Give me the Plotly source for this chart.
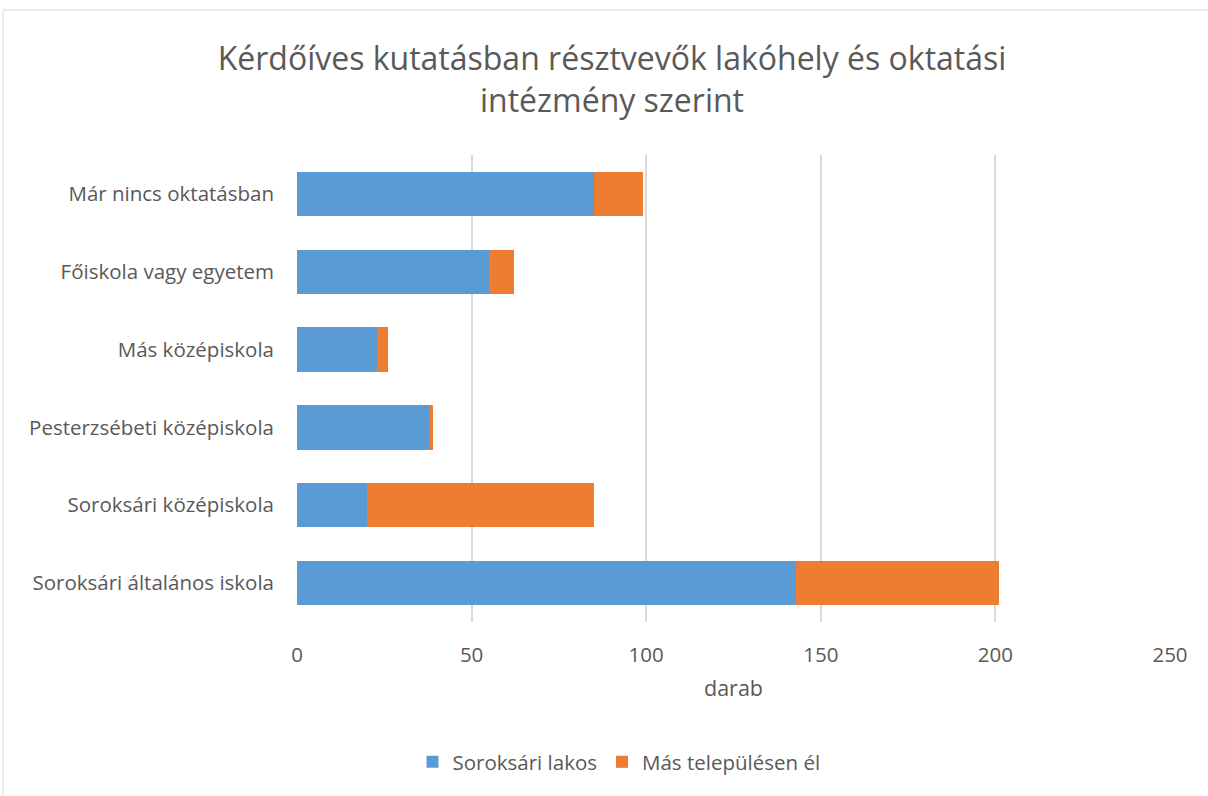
import plotly.graph_objects as go

# Respondents by place of residence and educational institution
categories = [
    "Soroksári általános iskola",
    "Soroksári középiskola",
    "Pesterzsébeti középiskola",
    "Más középiskola",
    "Főiskola vagy egyetem",
    "Már nincs oktatásban",
]
soroksari_lakos = [143, 20, 38, 23, 55, 85]
mas_telepulesen = [58, 65, 1, 3, 7, 14]

x_ticks = [0, 50, 100, 150, 200, 250]

W, H = 1208, 796
L, R, T, B = 297, 38, 155, 174
pw, ph = W - L - R, H - T - B

font_family = "'Open Sans', sans-serif"
grey = "#595959"

fig = go.Figure()
fig.add_trace(go.Bar(
    y=categories, x=soroksari_lakos, orientation="h",
    name="Soroksári lakos", marker=dict(color="#5b9bd5", line=dict(width=0)),
))
fig.add_trace(go.Bar(
    y=categories, x=mas_telepulesen, orientation="h",
    name="Más településen él", marker=dict(color="#ed7d31", line=dict(width=0)),
))

# Outer chart frame
fig.add_shape(
    type="rect", xref="paper", yref="paper",
    x0=(3 - L) / pw, x1=(W + 5 - L) / pw,
    y0=(H - B - (H + 5)) / ph, y1=(H - B - 10) / ph,
    line=dict(color="#d9d9d9", width=1), fillcolor="rgba(0,0,0,0)", layer="below",
)

fig.update_layout(
    width=W, height=H,
    margin=dict(l=L, r=R, t=T, b=B),
    barmode="stack",
    bargap=0.43,
    plot_bgcolor="white",
    paper_bgcolor="white",
    font=dict(family=font_family, color=grey, size=20),
    title=dict(
        text="Kérdőíves kutatásban résztvevők lakóhely és oktatási<br>intézmény szerint",
        x=612 / W, xanchor="center", xref="container",
        y=1 - 70 / H, yanchor="top",
        font=dict(size=32, color=grey, family=font_family),
    ),
    xaxis=dict(
        range=[0, 250], tickvals=x_ticks, ticktext=[str(v) for v in x_ticks],
        showgrid=True, gridcolor="#d9d9d9", gridwidth=1.5,
        zeroline=False, showline=False, ticks="",
        tickfont=dict(size=20.5, color=grey), ticklabelstandoff=18,
        title=dict(text="darab", font=dict(size=21.5, color=grey), standoff=14),
        fixedrange=True,
    ),
    yaxis=dict(
        categoryorder="array", categoryarray=categories,
        showgrid=False, zeroline=False, showline=False, ticks="",
        tickfont=dict(size=20.5, color=grey), ticklabelstandoff=22,
        fixedrange=True,
    ),
    legend=dict(
        orientation="h", x=619 / W, xanchor="center", xref="container",
        y=1 - 762 / H, yanchor="middle", yref="container",
        font=dict(size=20.5, color=grey), traceorder="normal",
        itemwidth=30,
    ),
    showlegend=True,
)

fig.write_html("out.html")
